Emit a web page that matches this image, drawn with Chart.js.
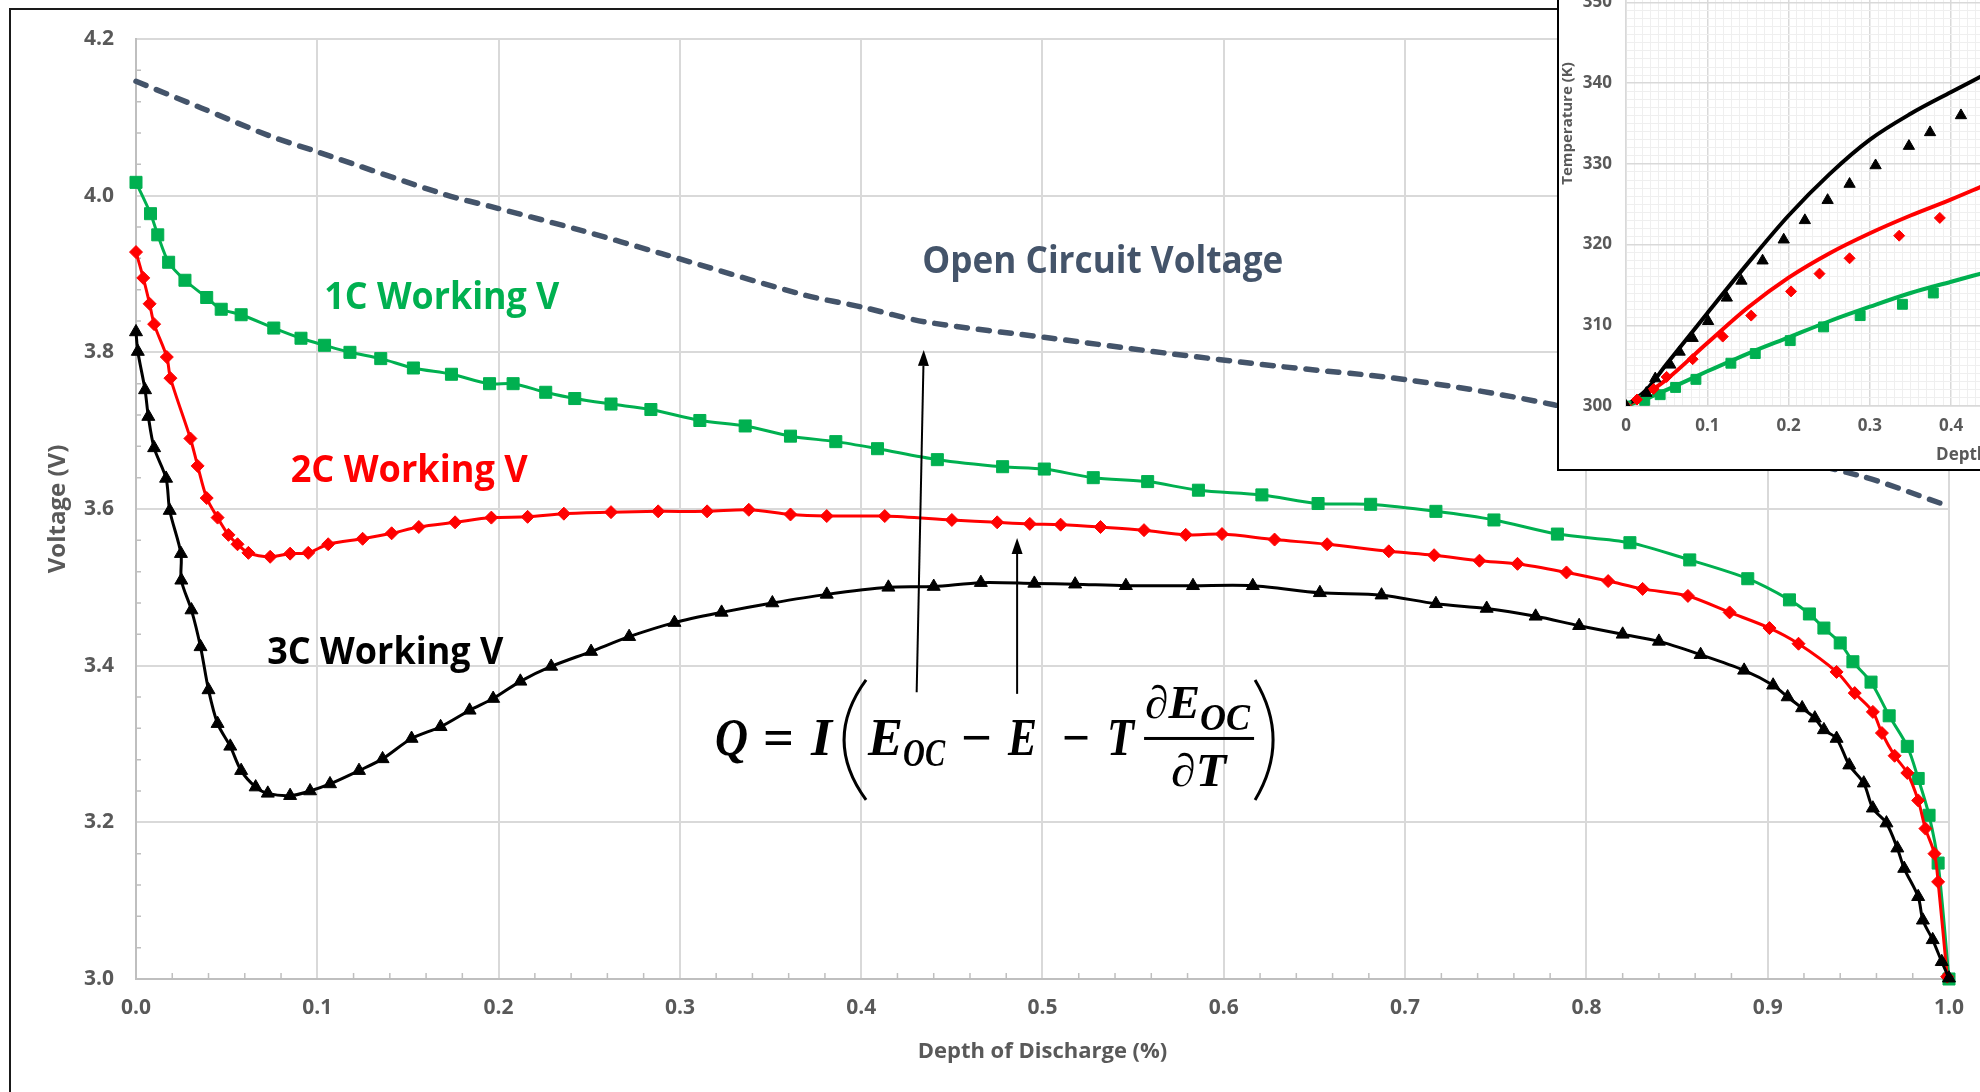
<!DOCTYPE html>
<html>
<head>
<meta charset="utf-8">
<script src="https://cdn.jsdelivr.net/npm/chart.js@4.4.1/dist/chart.umd.min.js"></script>
<style>
  html, body { margin: 0; padding: 0; background: #fff; overflow: hidden; width: 1980px; height: 1092px; }
  #wrap { position: relative; width: 1980px; height: 1092px; overflow: hidden; }
  #main { position: absolute; left: 0; top: 0; }
  #frame { position: absolute; left: 9px; top: 8px; width: 2000px; height: 1200px;
           border-left: 2px solid #1a1a1a; border-top: 2px solid #1a1a1a; }
  #inset { position: absolute; left: 1557px; top: -222px; width: 920px; height: 689px;
           border: 2px solid #000; background: #fff; }
  #insetChart { position: absolute; left: 0; top: 0; }
</style>
</head>
<body>
<div id="wrap">
  <canvas id="main" width="1980" height="1092"></canvas>
  <div id="frame"></div>
  <div id="inset"><canvas id="insetChart" width="920" height="689"></canvas></div>
</div>
<script>
// ---- main chart data (depth of discharge vs voltage) ----
const ocvX = [0, 0.036, 0.073, 0.100, 0.171, 0.196, 0.245, 0.290, 0.369, 0.400, 0.435, 0.505, 0.568, 0.631, 0.701, 0.782, 0.950, 0.997];
const ocvV = [4.146, 4.112, 4.077, 4.056, 4.001, 3.986, 3.956, 3.926, 3.873, 3.858, 3.839, 3.818, 3.799, 3.782, 3.765, 3.733, 3.643, 3.606];

const c1X = [0, 0.008, 0.012, 0.018, 0.027, 0.039, 0.047, 0.058, 0.076, 0.091, 0.104, 0.118, 0.135, 0.153, 0.174, 0.195, 0.208, 0.226,
  0.242, 0.262, 0.284, 0.311, 0.336, 0.361, 0.386, 0.409, 0.442, 0.478, 0.501, 0.528, 0.558, 0.586, 0.621, 0.652, 0.681, 0.717,
  0.749, 0.784, 0.824, 0.857, 0.889, 0.912, 0.923, 0.931, 0.940, 0.947, 0.957, 0.967, 0.977, 0.983, 0.989, 0.994, 1.0];
const c1V = [4.017, 3.977, 3.950, 3.915, 3.892, 3.870, 3.855, 3.848, 3.831, 3.818, 3.809, 3.800, 3.792, 3.780, 3.772, 3.760, 3.760, 3.749,
  3.741, 3.734, 3.727, 3.713, 3.706, 3.693, 3.686, 3.677, 3.663, 3.654, 3.651, 3.640, 3.635, 3.624, 3.618, 3.607, 3.606, 3.597,
  3.586, 3.568, 3.557, 3.535, 3.511, 3.484, 3.466, 3.448, 3.429, 3.405, 3.379, 3.336, 3.297, 3.256, 3.209, 3.148, 3.0];

const c2X = [0, 0.004, 0.0075, 0.010, 0.017, 0.019, 0.030, 0.034, 0.039, 0.045, 0.051, 0.056, 0.062, 0.074, 0.085, 0.095, 0.106,
  0.125, 0.141, 0.156, 0.176, 0.196, 0.216, 0.236, 0.262, 0.288, 0.315, 0.338, 0.361, 0.381, 0.413, 0.450, 0.475, 0.493, 0.510,
  0.532, 0.556, 0.579, 0.599, 0.628, 0.657, 0.691, 0.716, 0.741, 0.762, 0.789, 0.812, 0.831, 0.856, 0.879, 0.901, 0.917, 0.938,
  0.948, 0.958, 0.963, 0.970, 0.977, 0.983, 0.987, 0.992, 0.994, 0.999];
const c2V = [3.928, 3.895, 3.862, 3.836, 3.794, 3.767, 3.690, 3.655, 3.614, 3.589, 3.567, 3.555, 3.544, 3.539, 3.543, 3.544, 3.555,
  3.562, 3.569, 3.577, 3.583, 3.589, 3.590, 3.594, 3.596, 3.597, 3.597, 3.599, 3.593, 3.591, 3.591, 3.586, 3.583, 3.581, 3.580,
  3.577, 3.573, 3.567, 3.568, 3.561, 3.555, 3.546, 3.541, 3.534, 3.530, 3.519, 3.508, 3.498, 3.489, 3.468, 3.448, 3.428, 3.392,
  3.365, 3.341, 3.314, 3.285, 3.263, 3.228, 3.192, 3.160, 3.124, 3.003];

const c3X = [0, 0.001, 0.005, 0.0068, 0.010, 0.0166, 0.0186, 0.0248, 0.025, 0.0306, 0.0356, 0.040, 0.045, 0.052, 0.058, 0.066,
  0.0727, 0.085, 0.096, 0.107, 0.123, 0.136, 0.152, 0.168, 0.184, 0.197, 0.212, 0.229, 0.251, 0.272, 0.297, 0.323, 0.351, 0.381,
  0.415, 0.440, 0.466, 0.4955, 0.518, 0.546, 0.583, 0.616, 0.653, 0.687, 0.717, 0.745, 0.772, 0.796, 0.820, 0.840, 0.863, 0.887,
  0.903, 0.911, 0.919, 0.926, 0.931, 0.938, 0.945, 0.953, 0.958, 0.9655, 0.9715, 0.9753, 0.983, 0.9856, 0.991, 0.996, 1.0];
const c3V = [3.826, 3.801, 3.752, 3.718, 3.678, 3.639, 3.598, 3.543, 3.509, 3.471, 3.424, 3.369, 3.326, 3.297, 3.266, 3.245,
  3.237, 3.234, 3.240, 3.249, 3.266, 3.281, 3.307, 3.322, 3.343, 3.358, 3.380, 3.399, 3.418, 3.437, 3.455, 3.468, 3.480, 3.491,
  3.500, 3.501, 3.506, 3.505, 3.504, 3.502, 3.502, 3.502, 3.493, 3.490, 3.479, 3.473, 3.463, 3.451, 3.440, 3.431, 3.414, 3.394,
  3.375, 3.360, 3.346, 3.333, 3.318, 3.307, 3.273, 3.250, 3.218, 3.199, 3.167, 3.141, 3.105, 3.075, 3.050, 3.022, 3.001];

// arrows: [x at tail, x at tip], [V at tail, V at tip]
const arrow1X = [0.4306, 0.4345], arrow1V = [3.366, 3.803];
const arrow2X = [0.486, 0.486], arrow2V = [3.364, 3.563];

// ---- inset data (depth of discharge vs temperature) ----
const insetLineX = [0, 0.025, 0.05, 0.1, 0.15, 0.2, 0.25, 0.3, 0.35, 0.4, 0.44];
const inset3C = [300, 302.0, 305.2, 311.5, 317.7, 323.6, 328.7, 333.0, 336.2, 338.9, 341.0];
const inset2C = [300, 301.5, 303.3, 307.8, 312.2, 315.9, 318.9, 321.4, 323.6, 325.6, 327.3];
const inset1C = [300, 300.9, 302.0, 304.3, 306.5, 308.5, 310.5, 312.3, 314.0, 315.4, 316.5];

const inset3CmX = [0, 0.025, 0.036, 0.0545, 0.066, 0.082, 0.101, 0.124, 0.142, 0.168, 0.194, 0.220, 0.248, 0.275, 0.307, 0.348, 0.374, 0.412];
const inset3CmT = [300, 301.6, 303.4, 305.1, 306.7, 308.4, 310.5, 313.4, 315.5, 318.0, 320.6, 323.0, 325.5, 327.5, 329.8, 332.2, 333.9, 336.0];
const inset2CmX = [0, 0.0135, 0.034, 0.050, 0.082, 0.119, 0.154, 0.203, 0.238, 0.275, 0.336, 0.386];
const inset2CmT = [300, 300.8, 302.1, 303.6, 305.8, 308.6, 311.2, 314.2, 316.4, 318.3, 321.1, 323.3];
const inset1CmX = [0, 0.023, 0.042, 0.061, 0.086, 0.129, 0.159, 0.202, 0.243, 0.288, 0.340, 0.378];
const inset1CmT = [300, 300.7, 301.4, 302.3, 303.3, 305.3, 306.5, 308.1, 309.8, 311.2, 312.6, 314.0];

const GREEN = '#00B050', RED = '#FF0000', BLACK = '#000000', SLATE = '#44546A', GREY = '#595959';

Chart.defaults.font.family = '"Open Sans", Lato, sans-serif';

function pts(xs, ys) {
    return xs.map((x, i) => ({ x: x, y: ys[i] }));
}

// draws text squeezed/stretched to a target width (the original uses a narrow font)
function fitText(ctx, text, x, y, width, font, color, align) {
    ctx.save();
    ctx.font = font;
    const s = width / ctx.measureText(text).width;
    ctx.translate(align === 'center' ? x - width / 2 : x, y);
    ctx.scale(s, 1);
    ctx.fillStyle = color;
    ctx.textAlign = 'left';
    ctx.textBaseline = 'alphabetic';
    ctx.fillText(text, 0, 0);
    ctx.restore();
}

function arrow(ctx, x1, y1, x2, y2) {
    const ang = Math.atan2(y2 - y1, x2 - x1);
    const len = 16, half = 5.5;
    const bx = x2 - Math.cos(ang) * len, by = y2 - Math.sin(ang) * len;
    ctx.beginPath();
    ctx.moveTo(x1, y1);
    ctx.lineTo(bx, by);
    ctx.stroke();
    ctx.beginPath();
    ctx.moveTo(x2, y2);
    ctx.lineTo(bx + Math.sin(ang) * half, by - Math.cos(ang) * half);
    ctx.lineTo(bx - Math.sin(ang) * half, by + Math.cos(ang) * half);
    ctx.closePath();
    ctx.fill();
}

// minor tick marks sit inside the axes, Excel style
const minorTicks = {
    id: 'minorTicks',
    beforeDatasetsDraw(chart) {
        const { ctx, scales: { x, y } } = chart;
        ctx.save();
        ctx.strokeStyle = '#BFBFBF';
        ctx.lineWidth = 1.5;
        ctx.beginPath();
        for (let i = 1; i < 50; i++) {
            if (i % 5 === 0) continue;
            const px = x.getPixelForValue(i * 0.02);
            ctx.moveTo(px, y.bottom);
            ctx.lineTo(px, y.bottom - 6);
        }
        for (let i = 1; i < 30; i++) {
            if (i % 5 === 0) continue;
            const py = y.getPixelForValue(3 + i * 0.04);
            ctx.moveTo(x.left, py);
            ctx.lineTo(x.left + 5, py);
        }
        ctx.stroke();
        ctx.restore();
    }
};

const labels = [
    { text: 'Open Circuit Voltage', x: 0.4337, v: 3.901, w: 361, color: SLATE },
    { text: '1C Working V', x: 0.1039, v: 3.855, w: 235, color: GREEN },
    { text: '2C Working V', x: 0.0853, v: 3.634, w: 237, color: RED },
    { text: '3C Working V', x: 0.0724, v: 3.402, w: 236, color: BLACK }
];

// equation pieces, offsets from the left of "Q" on its baseline
const eqAnchor = { x: 0.3194, v: 3.286 };
const eqPieces = [
    { t: 'Q', dx: 0, dy: 0, w: 33, size: 52 },
    { t: '=', dx: 48, dy: 0, w: 31, size: 52, upright: true },
    { t: 'I', dx: 96, dy: 0, w: 21, size: 52 },
    { t: 'E', dx: 153, dy: 0, w: 35, size: 52 },
    { t: 'OC', dx: 188, dy: 11, w: 42, size: 40 },
    { t: '\u2212', dx: 246, dy: 0, w: 31, size: 52, upright: true },
    { t: 'E', dx: 293, dy: 0, w: 29, size: 52 },
    { t: '\u2212', dx: 347, dy: 0, w: 28, size: 52, upright: true },
    { t: 'T', dx: 392, dy: 0, w: 27, size: 52 },
    { t: '\u2202E', dx: 430, dy: -37, w: 55, size: 46 },
    { t: 'OC', dx: 485, dy: -25, w: 50, size: 38 },
    { t: '\u2202T', dx: 456, dy: 31, w: 55, size: 46 }
];

function paren(ctx, xOuter, xInner, top, bottom) {
    const mid = (top + bottom) / 2;
    ctx.beginPath();
    ctx.moveTo(xInner, top);
    ctx.quadraticCurveTo(2 * xOuter - xInner, mid, xInner, bottom);
    ctx.stroke();
}

const annotations = {
    id: 'annotations',
    afterDatasetsDraw(chart) {
        const { ctx, scales: { x, y } } = chart;
        ctx.save();

        labels.forEach(l => {
            fitText(ctx, l.text, x.getPixelForValue(l.x), y.getPixelForValue(l.v), l.w, 'bold 37px "Open Sans"', l.color, 'left');
        });

        ctx.strokeStyle = '#000';
        ctx.fillStyle = '#000';
        ctx.lineWidth = 2;
        arrow(ctx, x.getPixelForValue(arrow1X[0]), y.getPixelForValue(arrow1V[0]),
            x.getPixelForValue(arrow1X[1]), y.getPixelForValue(arrow1V[1]));
        arrow(ctx, x.getPixelForValue(arrow2X[0]), y.getPixelForValue(arrow2V[0]),
            x.getPixelForValue(arrow2X[1]), y.getPixelForValue(arrow2V[1]));

        const bx = x.getPixelForValue(eqAnchor.x), by = y.getPixelForValue(eqAnchor.v);
        eqPieces.forEach(p => {
            const font = (p.upright ? 'bold ' : 'italic bold ') + p.size + 'px "Liberation Serif", "DejaVu Serif", serif';
            fitText(ctx, p.t, bx + p.dx, by + p.dy, p.w, font, '#000', 'left');
        });
        ctx.fillRect(bx + 429, by - 18, 110, 3);
        ctx.lineWidth = 3;
        paren(ctx, bx + 129, bx + 151, by - 75, by + 45);
        paren(ctx, bx + 558, bx + 540, by - 75, by + 45);

        ctx.restore();
    }
};

const axisFont = { size: 21, weight: 'bold' };

new Chart(document.getElementById('main'), {
    type: 'scatter',
    data: {
        datasets: [
            {
                label: '3C Working V', data: pts(c3X, c3V), showLine: true, order: 1,
                borderColor: BLACK, backgroundColor: BLACK, borderWidth: 3, tension: 0.3,
                pointStyle: 'triangle', pointRadius: 7.5, pointBorderWidth: 1, clip: false
            },
            {
                label: '2C Working V', data: pts(c2X, c2V), showLine: true, order: 2,
                borderColor: RED, backgroundColor: RED, borderWidth: 3, tension: 0.3,
                pointStyle: 'rectRot', pointRadius: 6.5, pointBorderWidth: 1, clip: false
            },
            {
                label: '1C Working V', data: pts(c1X, c1V), showLine: true, order: 3,
                borderColor: GREEN, backgroundColor: GREEN, borderWidth: 3, tension: 0.3,
                pointStyle: 'rect', pointRadius: 8.5, pointBorderWidth: 1, clip: false
            },
            {
                label: 'Open Circuit Voltage', data: pts(ocvX, ocvV), showLine: true, order: 4,
                borderColor: SLATE, borderWidth: 5.5, borderDash: [11, 11], borderCapStyle: 'round',
                tension: 0.3, pointRadius: 0, clip: false
            }
        ]
    },
    options: {
        responsive: false,
        animation: false,
        layout: { padding: { top: 39, right: 29, left: 0, bottom: 0 } },
        plugins: { legend: { display: false }, tooltip: { enabled: false } },
        scales: {
            x: {
                type: 'linear', min: 0, max: 1,
                afterFit: s => { s.height = 113; },
                ticks: { stepSize: 0.1, callback: v => v.toFixed(1), color: GREY, font: axisFont, padding: 16 },
                grid: { color: '#D9D9D9', lineWidth: 2, drawTicks: false },
                border: { color: '#BFBFBF', width: 2 },
                title: { display: true, text: 'Depth of Discharge (%)', color: GREY,
                    font: { size: 22, weight: 'bold' }, padding: { top: 0, bottom: 27 } }
            },
            y: {
                type: 'linear', min: 3, max: 4.2,
                afterFit: s => { s.width = 136; },
                ticks: { stepSize: 0.2, callback: v => v.toFixed(1), color: GREY, font: axisFont, padding: 22 },
                grid: { color: '#D9D9D9', lineWidth: 2, drawTicks: false },
                border: { color: '#BFBFBF', width: 2 },
                title: { display: true, text: 'Voltage (V)', color: GREY,
                    font: { size: 24, weight: 'bold' }, padding: { top: 44, bottom: 0 } }
            }
        }
    },
    plugins: [minorTicks, annotations]
});

// ---- inset: temperature rise ----
const isMajor = (v, step) => Math.abs(v / step - Math.round(v / step)) < 1e-6;

new Chart(document.getElementById('insetChart'), {
    type: 'scatter',
    data: {
        datasets: [
            { data: pts(inset3CmX, inset3CmT), backgroundColor: BLACK, borderColor: BLACK, pointStyle: 'triangle', pointRadius: 6.5, order: 1 },
            { data: pts(inset2CmX, inset2CmT), backgroundColor: RED, borderColor: RED, pointStyle: 'rectRot', pointRadius: 5.5, order: 1 },
            { data: pts(inset1CmX, inset1CmT), backgroundColor: GREEN, borderColor: GREEN, pointStyle: 'rect', pointRadius: 7, order: 1 },
            { data: pts(insetLineX, inset3C), showLine: true, borderColor: BLACK, borderWidth: 4, pointRadius: 0, cubicInterpolationMode: 'monotone', order: 2 },
            { data: pts(insetLineX, inset2C), showLine: true, borderColor: RED, borderWidth: 4, pointRadius: 0, cubicInterpolationMode: 'monotone', order: 2 },
            { data: pts(insetLineX, inset1C), showLine: true, borderColor: GREEN, borderWidth: 4, pointRadius: 0, cubicInterpolationMode: 'monotone', order: 2 }
        ]
    },
    options: {
        responsive: false,
        animation: false,
        layout: { padding: { top: 61, right: 40, left: 0, bottom: 0 } },
        plugins: { legend: { display: false }, tooltip: { enabled: false } },
        scales: {
            x: {
                type: 'linear', min: 0, max: 1,
                afterFit: s => { s.height = 63; },
                ticks: {
                    stepSize: 0.01, autoSkip: false, maxRotation: 0,
                    callback: v => isMajor(v, 0.1) ? String(Math.round(v * 10) / 10) : '',
                    color: GREY, font: { size: 17, weight: 'bold' }, padding: 10
                },
                grid: {
                    drawTicks: false,
                    color: c => isMajor(c.tick.value, 0.1) ? '#D9D9D9' : '#EFEFEF',
                    lineWidth: c => isMajor(c.tick.value, 0.1) ? 1.5 : 1
                },
                border: { color: '#D9D9D9', width: 1.5 },
                title: { display: true, text: 'Depth of Discharge (%)', color: GREY,
                    font: { size: 17, weight: 'bold' }, padding: { top: 0, bottom: 4 } }
            },
            y: {
                type: 'linear', min: 300, max: 370,
                afterFit: s => { s.width = 67; },
                ticks: {
                    stepSize: 1, autoSkip: false,
                    callback: v => isMajor(v, 10) ? String(Math.round(v)) : '',
                    color: GREY, font: { size: 17, weight: 'bold' }, padding: 14
                },
                grid: {
                    drawTicks: false,
                    color: c => isMajor(c.tick.value, 10) ? '#D9D9D9' : '#EFEFEF',
                    lineWidth: c => isMajor(c.tick.value, 10) ? 1.5 : 1
                },
                border: { color: '#D9D9D9', width: 1.5 },
                title: { display: true, text: 'Temperature (K)', color: GREY,
                    font: { size: 15, weight: 'bold' }, padding: { top: 0, bottom: 0 } }
            }
        }
    }
});
</script>
</body>
</html>
